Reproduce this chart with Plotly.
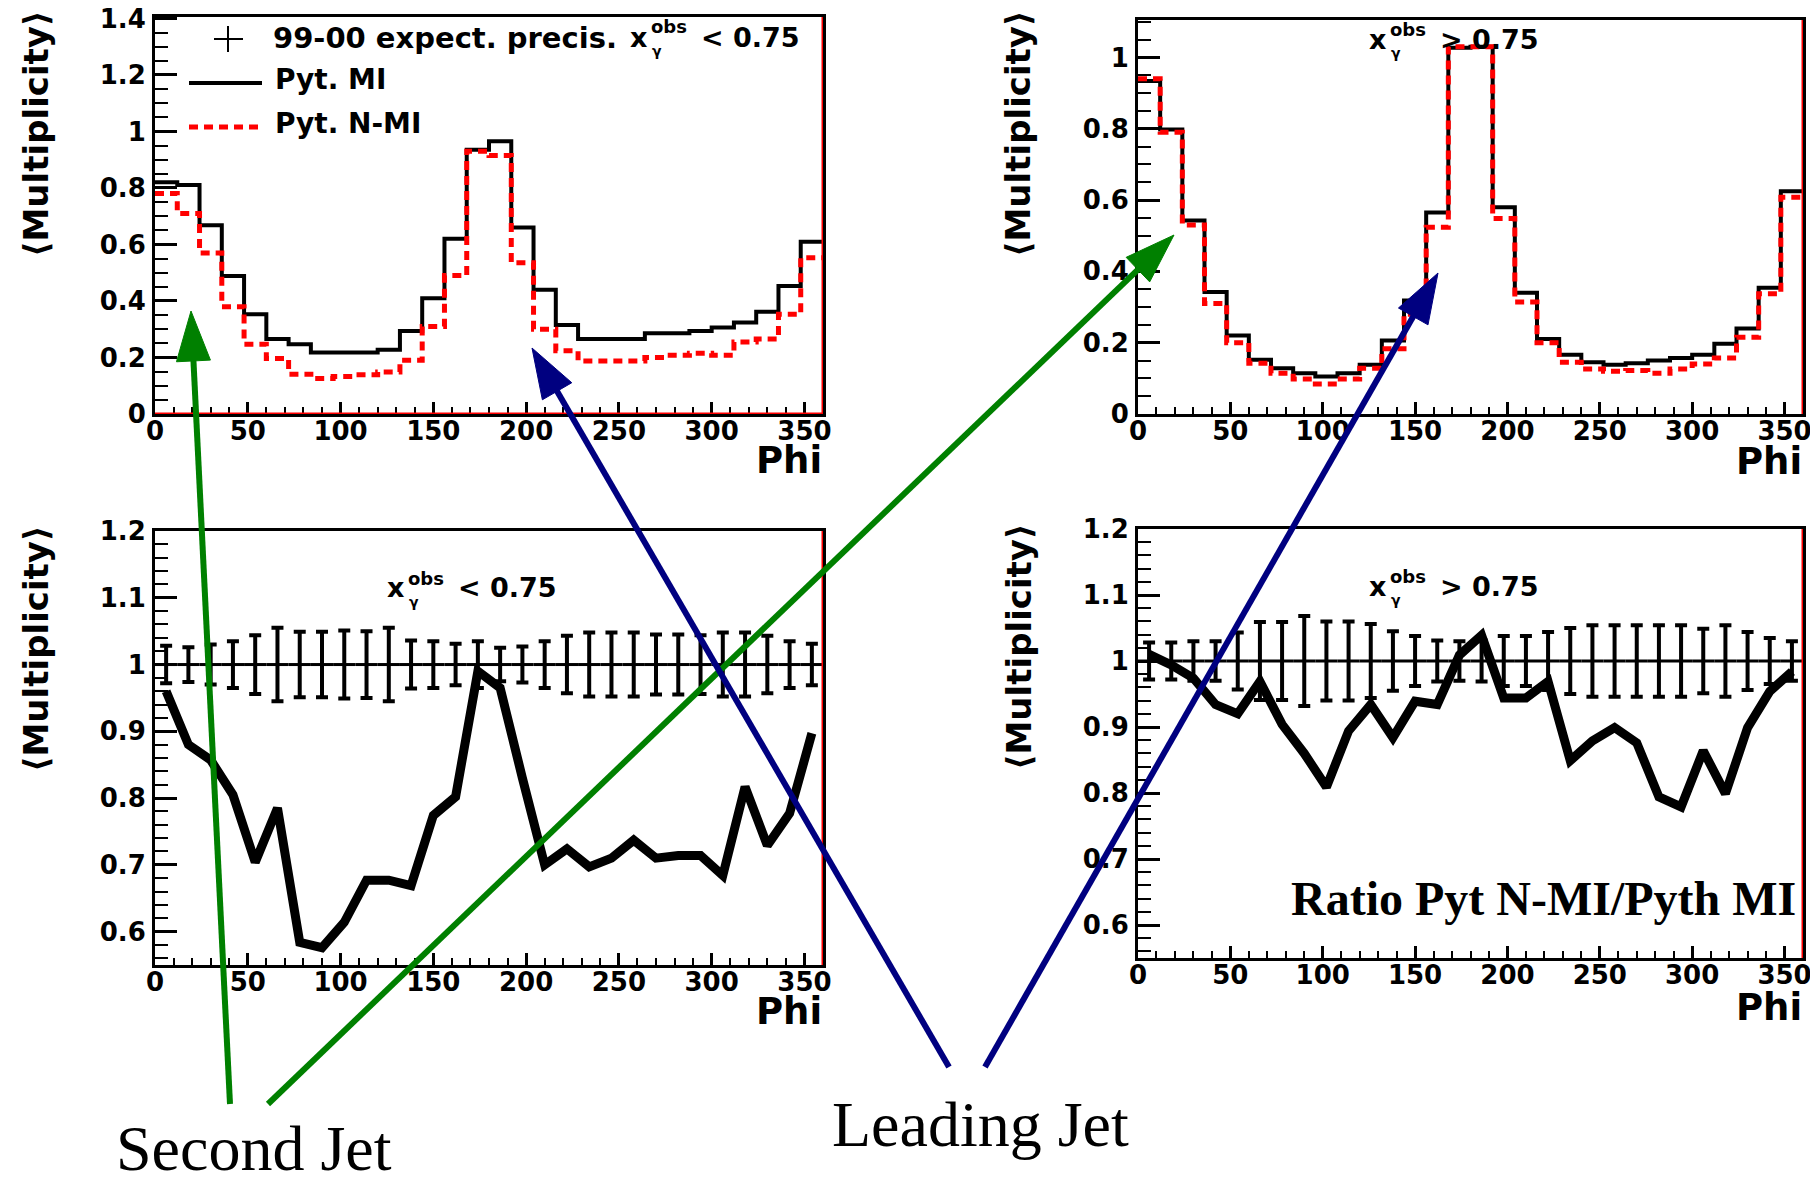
import math
import plotly.graph_objects as go

# the page places the figure 8 px in from the top-left corner
OFF = 8
FW, FH = 1818 - OFF, 1177 - OFF

# ---------------- data ----------------
phi_lo = [0, 12, 24, 36, 48, 60, 72, 84, 96, 108, 120, 132, 144, 156, 168,
          180, 192, 204, 216, 228, 240, 252, 264, 276, 288, 300, 312, 324, 336, 348]
phi_centers = [6, 18, 30, 42, 54, 66, 78, 90, 102, 114, 126, 138, 150, 162, 174,
               186, 198, 210, 222, 234, 246, 258, 270, 282, 294, 306, 318, 330, 342, 354]
phi_max = 360

# x_gamma^obs < 0.75 : mean multiplicity
tl_mi = [0.82, 0.81, 0.668, 0.488, 0.353, 0.265, 0.247, 0.218, 0.218, 0.218,
         0.227, 0.294, 0.41, 0.62, 0.935, 0.965, 0.66, 0.44, 0.315, 0.265,
         0.265, 0.265, 0.286, 0.286, 0.294, 0.306, 0.324, 0.362, 0.453, 0.61]
tl_nmi = [0.78, 0.71, 0.57, 0.38, 0.247, 0.196, 0.141, 0.126, 0.133, 0.139,
          0.149, 0.19, 0.31, 0.49, 0.93, 0.915, 0.535, 0.30, 0.224, 0.188,
          0.188, 0.188, 0.2, 0.208, 0.215, 0.208, 0.255, 0.265, 0.353, 0.553]
# x_gamma^obs > 0.75 : mean multiplicity
tr_mi = [0.934, 0.798, 0.543, 0.342, 0.22, 0.152, 0.128, 0.114, 0.105, 0.114,
         0.138, 0.206, 0.318, 0.565, 1.027, 1.03, 0.58, 0.34, 0.21, 0.166,
         0.145, 0.138, 0.142, 0.15, 0.157, 0.166, 0.197, 0.24, 0.354, 0.625]
tr_nmi = [0.94, 0.79, 0.53, 0.31, 0.20, 0.142, 0.114, 0.098, 0.084, 0.098,
          0.128, 0.183, 0.28, 0.524, 1.03, 1.03, 0.548, 0.314, 0.20, 0.145,
          0.126, 0.12, 0.122, 0.114, 0.126, 0.14, 0.157, 0.215, 0.337, 0.608]
# ratios N-MI / MI and expected precision
bl_ratio = [0.96, 0.88, 0.857, 0.805, 0.704, 0.785, 0.584, 0.576, 0.614, 0.677,
            0.677, 0.669, 0.774, 0.802, 0.99, 0.965, 0.83, 0.70, 0.724, 0.697,
            0.71, 0.737, 0.71, 0.714, 0.714, 0.684, 0.817, 0.729, 0.777, 0.897]
bl_err = [0.028, 0.026, 0.030, 0.035, 0.044, 0.055, 0.049, 0.049, 0.051, 0.050,
          0.055, 0.036, 0.035, 0.031, 0.035, 0.025, 0.027, 0.035, 0.043, 0.048,
          0.048, 0.048, 0.045, 0.045, 0.044, 0.048, 0.048, 0.043, 0.035, 0.031]
br_ratio = [1.01, 0.994, 0.974, 0.934, 0.92, 0.969, 0.904, 0.86, 0.809, 0.894,
            0.934, 0.884, 0.939, 0.934, 1.009, 1.039, 0.944, 0.944, 0.969, 0.849,
            0.879, 0.899, 0.876, 0.794, 0.779, 0.864, 0.799, 0.899, 0.954, 0.984]
br_err = [0.028, 0.028, 0.030, 0.030, 0.043, 0.059, 0.059, 0.068, 0.060, 0.060,
          0.056, 0.045, 0.038, 0.031, 0.030, 0.031, 0.038, 0.038, 0.044, 0.050,
          0.054, 0.054, 0.054, 0.054, 0.054, 0.049, 0.054, 0.044, 0.035, 0.030]
ones = [1.0] * 30

# ---------------- helpers ----------------
def px(x):
    return (x - OFF) / FW


def py(y):
    return 1 - (y - OFF) / FH


BOLD = "DejaVu Sans"
BLACK = "black"
RED = "#ff0000"
GREEN = "#008000"
NAVY = "#000080"

panels = [
    dict(x=(155, 823), y=(17, 414), yr=[0, 1.405], dtick=0.2, minor=0.05),
    dict(x=(1138, 1803), y=(20, 414), yr=[0, 1.105], dtick=0.2, minor=0.05),
    dict(x=(155, 823), y=(531, 965), yr=[0.55, 1.2], dtick=0.1, minor=0.02),
    dict(x=(1138, 1803), y=(529, 958), yr=[0.55, 1.2], dtick=0.1, minor=0.02),
]

fig = go.Figure()
layout = dict(width=FW, height=FH,
              margin=dict(l=0, r=0, t=0, b=0, pad=0, autoexpand=False),
              paper_bgcolor="white", plot_bgcolor="white", showlegend=False,
              template="none")

tickfont = dict(family=BOLD, size=26, color=BLACK, weight="bold")
for i, p in enumerate(panels, start=1):
    sx = "" if i == 1 else str(i)
    layout["xaxis" + sx] = dict(
        domain=[px(p["x"][0]), px(p["x"][1])], anchor="y" + sx,
        range=[0, phi_max], tick0=0, dtick=50, ticks="inside", ticklen=12,
        tickwidth=3, tickcolor=BLACK, showline=True, linewidth=3, linecolor=BLACK,
        mirror=True, showgrid=False, zeroline=False, tickfont=tickfont,
        ticklabelstandoff=-8, automargin=False, ticklabeloverflow="allow",
        minor=dict(dtick=10, tick0=0, ticks="inside", ticklen=7, tickwidth=2,
                   tickcolor=BLACK, showgrid=False))
    layout["yaxis" + sx] = dict(
        domain=[py(p["y"][1]), py(p["y"][0])], anchor="x" + sx,
        range=p["yr"], tick0=0, dtick=p["dtick"], ticks="inside", ticklen=22,
        tickwidth=3, tickcolor=BLACK, showline=True, linewidth=3, linecolor=BLACK,
        mirror=True, showgrid=False, zeroline=False, tickfont=tickfont,
        ticklabelstandoff=1, automargin=False, ticklabeloverflow="allow",
        minor=dict(dtick=p["minor"], tick0=0, ticks="inside", ticklen=13,
                   tickwidth=2, tickcolor=BLACK, showgrid=False))

# ---------------- traces ----------------
def step(vals, color, xa, ya, dash=None, width=4):
    return go.Scatter(x=phi_lo + [phi_max], y=vals + [vals[-1]], mode="lines",
                      line=dict(color=color, width=width, shape="hv", dash=dash),
                      xaxis=xa, yaxis=ya, hoverinfo="skip")


fig.add_trace(step(tl_mi, BLACK, "x", "y"))
fig.add_trace(step(tl_nmi, RED, "x", "y", dash="9px,6px", width=5))
fig.add_trace(step(tr_mi, BLACK, "x2", "y2"))
fig.add_trace(step(tr_nmi, RED, "x2", "y2", dash="9px,6px", width=5))


def errs(err, xa, ya):
    return go.Scatter(x=phi_centers, y=ones, mode="markers",
                      marker=dict(size=1, color=BLACK),
                      error_y=dict(type="data", array=err, thickness=4, width=6,
                                   color=BLACK),
                      error_x=dict(type="constant", value=6, thickness=3, width=0,
                                   color=BLACK),
                      xaxis=xa, yaxis=ya, hoverinfo="skip")


def ratio(vals, xa, ya):
    return go.Scatter(x=phi_centers, y=vals, mode="lines",
                      line=dict(color=BLACK, width=9), xaxis=xa, yaxis=ya,
                      hoverinfo="skip")


fig.add_trace(errs(bl_err, "x3", "y3"))
fig.add_trace(ratio(bl_ratio, "x3", "y3"))
fig.add_trace(errs(br_err, "x4", "y4"))
fig.add_trace(ratio(br_ratio, "x4", "y4"))

# ---------------- shapes ----------------
shapes = []
for i in range(1, 5):
    sx = "" if i == 1 else str(i)
    shapes.append(dict(type="line", xref="x" + sx, yref="y" + sx + " domain",
                       x0=phi_max, x1=phi_max, y0=0, y1=1,
                       line=dict(color=RED, width=3)))
shapes.append(dict(type="line", xref="x domain", yref="y", x0=0, x1=1, y0=0, y1=0,
                   line=dict(color=RED, width=3)))


def pline(x0, y0, x1, y1, color, width, dash=None):
    shapes.append(dict(type="line", xref="paper", yref="paper",
                       x0=px(x0), x1=px(x1), y0=py(y0), y1=py(y1),
                       line=dict(color=color, width=width, dash=dash)))


# legend decorations (top-left panel)
pline(214, 39, 243, 39, BLACK, 2)
pline(228, 26, 228, 52, BLACK, 2)
pline(189, 83, 262, 83, BLACK, 4)
pline(189, 127, 262, 127, RED, 5, dash="9px,6px")


def arrow(tip, tail, color, head_len=50, head_w=34, width=6):
    dx, dy = tip[0] - tail[0], tip[1] - tail[1]
    d = math.hypot(dx, dy)
    ux, uy = dx / d, dy / d
    bx, by = tip[0] - head_len * ux, tip[1] - head_len * uy
    nx, ny = -uy, ux
    pline(tail[0], tail[1], bx + 4 * ux, by + 4 * uy, color, width)
    c1 = (bx + head_w / 2 * nx, by + head_w / 2 * ny)
    c2 = (bx - head_w / 2 * nx, by - head_w / 2 * ny)
    path = "M {} {} L {} {} L {} {} Z".format(px(tip[0]), py(tip[1]),
                                            px(c1[0]), py(c1[1]),
                                            px(c2[0]), py(c2[1]))
    shapes.append(dict(type="path", xref="paper", yref="paper", path=path,
                       fillcolor=color, line=dict(color=color, width=1)))


arrow((191, 311), (230, 1104), GREEN)
arrow((1174, 235), (268, 1104), GREEN)
arrow((532, 348), (949, 1067), NAVY)
arrow((1438, 273), (985, 1067), NAVY)

# ---------------- annotations ----------------
ann = []


def text(x, y, s, size, xanchor="left", family=BOLD, weight="bold", angle=0):
    ann.append(dict(x=px(x), y=py(y), xref="paper", yref="paper", text=s,
                    showarrow=False, xanchor=xanchor, yanchor="middle",
                    textangle=angle, borderpad=0,
                    font=dict(family=family, size=size, color=BLACK, weight=weight)))


# legend texts
text(272, 38, "99-00 expect. precis.", 29)
text(274, 80, "Pyt. MI", 28)
text(274, 123, "Pyt. N-MI", 28)


def xgamma(xl, yc, rel):
    text(xl, yc, "x", 27)
    text(xl + 21, yc - 10, "obs", 18)
    text(xl + 22, yc + 14, "γ", 14)
    text(xl + 71, yc, rel, 27)


xgamma(629, 37, "< 0.75")
xgamma(1368, 39, "> 0.75")
xgamma(386, 588, "< 0.75")
xgamma(1368, 586, "> 0.75")

# axis titles
for xr, yc in [(823, 460), (1803, 461), (823, 1011), (1803, 1007)]:
    text(xr, yc, "Phi", 37, xanchor="right")
for xc, yc in [(36, 134), (1018, 134), (36, 649), (1019, 647)]:
    text(xc, yc, "⟨Multiplicity⟩", 34, xanchor="center", angle=-90)

text(1797, 899, "Ratio Pyt N-MI/Pyth MI", 48, xanchor="right",
     family="Liberation Serif")
text(254, 1148, "Second Jet", 64, xanchor="center", family="Liberation Serif",
     weight="normal")
text(980, 1124, "Leading Jet", 64, xanchor="center", family="Liberation Serif",
     weight="normal")

layout["shapes"] = shapes
layout["annotations"] = ann
fig.update_layout(**layout)
fig.write_html("out.html")
